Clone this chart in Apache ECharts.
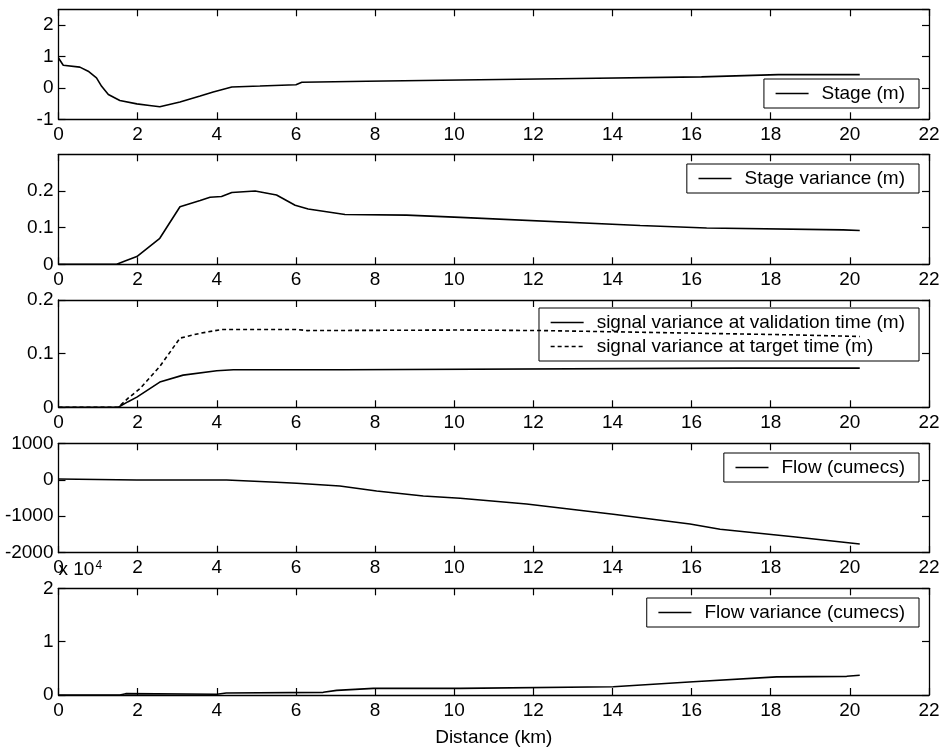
<!DOCTYPE html>
<html>
<head>
<meta charset="utf-8">
<script src="https://cdn.jsdelivr.net/npm/echarts@6/dist/echarts.min.js"></script>
<style>
  html, body { margin: 0; padding: 0; background: #fff; }
  #chart { width: 945px; height: 748px; }
</style>
</head>
<body>
<div id="chart"></div>
<script>
// Longitudinal profiles along the reach, distance in km

// Stage (m)
const stageKm = [0, 0.12, 0.54, 0.75, 0.96, 1.09, 1.26, 1.55, 1.98, 2.3, 2.56, 3.07, 3.58, 3.91, 4.38, 5.09, 6.0, 6.15, 7.79, 10.15, 13.1, 16.25, 18.19, 20.25];
const stageM  = [0.95, 0.72, 0.66, 0.53, 0.32, 0.05, -0.21, -0.40, -0.51, -0.56, -0.60, -0.45, -0.26, -0.13, 0.03, 0.06, 0.10, 0.18, 0.21, 0.25, 0.30, 0.35, 0.42, 0.42];

// Stage variance (m)
const stageVarKm = [0, 1.47, 1.68, 1.98, 2.56, 3.07, 3.58, 3.83, 4.12, 4.38, 4.97, 5.51, 5.98, 6.31, 7.24, 8.8, 10.15, 14.7, 16.38, 19.83, 20.25];
const stageVarM  = [0, 0, 0.009, 0.021, 0.071, 0.157, 0.174, 0.183, 0.185, 0.196, 0.200, 0.189, 0.161, 0.151, 0.136, 0.134, 0.128, 0.106, 0.099, 0.094, 0.092];

// Signal variance at validation time (m)
const validKm  = [0, 1.51, 1.76, 1.98, 2.56, 3.15, 4.0, 4.42, 7.2, 7.22, 17.2, 20.25];
const validVar = [0, 0, 0.0105, 0.019, 0.047, 0.060, 0.068, 0.070, 0.070, 0.072, 0.073, 0.073];

// Signal variance at target time (m)
const targetKm  = [0, 1.51, 1.76, 2.06, 2.56, 3.07, 3.58, 4.12, 6.0, 6.3, 10.15, 12.25, 18.57, 20.25];
const targetVar = [0, 0, 0.017, 0.035, 0.076, 0.129, 0.138, 0.145, 0.145, 0.143, 0.144, 0.143, 0.135, 0.132];

// Flow (cumecs)
const flowKm = [0, 1.98, 4.25, 4.27, 5.51, 6.02, 7.11, 8.04, 9.22, 10.15, 11.83, 14.02, 15.96, 16.72, 18.57, 20.25];
const flowQ  = [20, -5, -6, -50, -70, -97, -170, -308, -445, -508, -664, -947, -1213, -1358, -1561, -1761];

// Flow variance (cumecs), in units of 10^4
const flowVarKm = [0, 1.55, 1.7, 4.0, 4.24, 6.69, 7.03, 7.96, 8.9, 10.15, 14.02, 16.04, 18.15, 19.92, 20.25];
const flowVarQ  = [0, 0, 0.025, 0.013, 0.037, 0.05, 0.087, 0.124, 0.124, 0.124, 0.155, 0.247, 0.339, 0.35, 0.37];

// Axis ranges and labels
const distTicks = { min: 0, max: 22, step: 2 };
const xTitle = 'Distance (km)';
const flowVarExponent = '4';
const names = {
  stage: 'Stage (m)',
  stageVar: 'Stage variance (m)',
  valid: 'signal variance at validation time (m)',
  target: 'signal variance at target time (m)',
  flow: 'Flow (cumecs)',
  flowVar: 'Flow variance (cumecs)'
};

const FONT = 'Arial, "Liberation Sans", Helvetica, sans-serif';
const INK = '#000';
const FS = 19;

const panels = [
  { top: 9.3,   bottom: 119.3, yMin: -1,    yMax: 2.5,  yStep: 1,    hideMax: true },
  { top: 154.3, bottom: 264.3, yMin: 0,     yMax: 0.3,  yStep: 0.1,  hideMax: true },
  { top: 300,   bottom: 407.3, yMin: 0,     yMax: 0.2,  yStep: 0.1,  hideMax: false },
  { top: 443.3, bottom: 552.7, yMin: -2000, yMax: 1000, yStep: 1000, hideMax: false },
  { top: 588.3, bottom: 696.7, yMin: 0,     yMax: 2,    yStep: 1,    hideMax: false }
];

const axisLine = { show: true, onZero: false, lineStyle: { color: INK, width: 1.3 } };
const tickStyle = { show: true, inside: true, length: 7, lineStyle: { color: INK, width: 1.2 } };
const labelStyle = { color: INK, fontSize: FS, fontFamily: FONT };
const fmt = v => String(+(+v).toFixed(3));

const grids = [], xAxes = [], yAxes = [];
panels.forEach((p, i) => {
  grids.push({ left: 58.5, right: 16, top: p.top, height: p.bottom - p.top, show: false });
  const last = i === panels.length - 1;
  xAxes.push({
    type: 'value', gridIndex: i, position: 'bottom',
    min: distTicks.min, max: distTicks.max, interval: distTicks.step,
    axisLine, axisTick: tickStyle, splitLine: { show: false },
    axisLabel: Object.assign({ margin: 6, formatter: fmt }, labelStyle),
    name: last ? xTitle : '', nameLocation: 'middle', nameGap: 33,
    nameTextStyle: Object.assign({}, labelStyle)
  });
  xAxes.push({
    type: 'value', gridIndex: i, position: 'top',
    min: distTicks.min, max: distTicks.max, interval: distTicks.step,
    axisLine, axisTick: tickStyle, splitLine: { show: false },
    axisLabel: { show: false }
  });
  yAxes.push({
    type: 'value', gridIndex: i, position: 'left',
    min: p.yMin, max: p.yMax, interval: p.yStep,
    axisLine, axisTick: tickStyle, splitLine: { show: false },
    axisLabel: Object.assign({ margin: 5, formatter: fmt, showMaxLabel: !p.hideMax, showMinLabel: true }, labelStyle),
    name: last ? 'x 10{s|' + flowVarExponent + '}' : '',
    nameLocation: 'end', nameGap: 9,
    nameTextStyle: Object.assign({ align: 'left', verticalAlign: 'bottom',
      rich: { s: { fontSize: 12, fontFamily: FONT, color: INK, verticalAlign: 'top', padding: [0, 0, 8, 1] } } }, labelStyle)
  });
  yAxes.push({
    type: 'value', gridIndex: i, position: 'right',
    min: p.yMin, max: p.yMax, interval: p.yStep,
    axisLine, axisTick: tickStyle, splitLine: { show: false },
    axisLabel: { show: false }
  });
});

const zip = (xs, ys) => xs.map((x, k) => [x, ys[k]]);
function lineSeries(name, panel, xs, ys, dashed) {
  return {
    name, type: 'line', xAxisIndex: 2 * panel, yAxisIndex: 2 * panel,
    data: zip(xs, ys), symbol: 'none', showSymbol: false, animation: false,
    silent: true, clip: true,
    itemStyle: { color: INK },
    lineStyle: { color: INK, width: 1.6, type: dashed ? [4, 3] : 'solid' }
  };
}

const series = [
  lineSeries(names.stage, 0, stageKm, stageM),
  lineSeries(names.stageVar, 1, stageVarKm, stageVarM),
  lineSeries(names.valid, 2, validKm, validVar),
  lineSeries(names.target, 2, targetKm, targetVar, true),
  lineSeries(names.flow, 3, flowKm, flowQ),
  lineSeries(names.flowVar, 4, flowVarKm, flowVarQ)
];

function legendBox(items, top) {
  return {
    data: items, right: 26, top, orient: 'vertical',
    itemWidth: 33, itemHeight: 14, itemGap: 5,
    padding: [5, 14, 5, 11],
    borderColor: INK, borderWidth: 1, borderRadius: 0,
    backgroundColor: 'transparent', selectedMode: false,
    // line sample only, no marker
    itemStyle: { color: 'transparent', borderColor: 'transparent', borderWidth: 0, opacity: 0 },
    lineStyle: { width: 1.3 },
    textStyle: { color: INK, fontSize: FS, fontFamily: FONT, padding: [0, 0, 0, 8] }
  };
}

const option = {
  backgroundColor: '#fff',
  animation: false,
  grid: grids,
  xAxis: xAxes,
  yAxis: yAxes,
  legend: [
    legendBox([names.stage], 79),
    legendBox([names.stageVar], 164),
    legendBox([names.valid, names.target], 308),
    legendBox([names.flow], 453),
    legendBox([names.flowVar], 598)
  ],
  series
};

const chart = echarts.init(document.getElementById('chart'), null, { renderer: 'canvas' });
chart.setOption(option);
</script>
</body>
</html>
